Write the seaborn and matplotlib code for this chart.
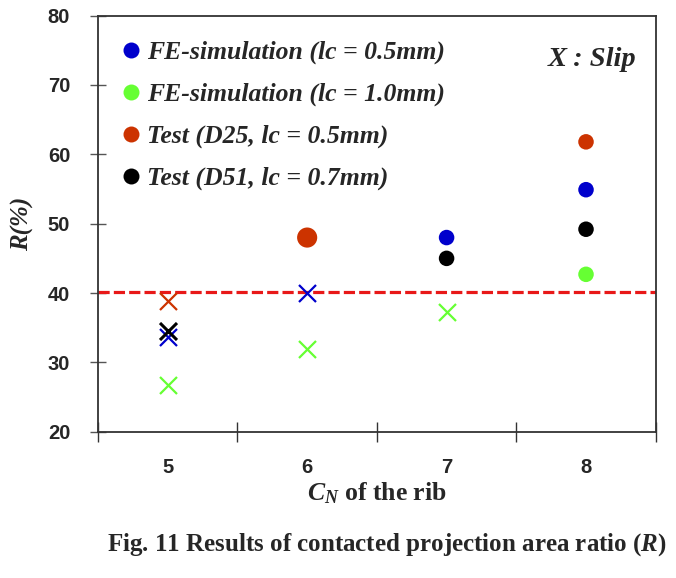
import numpy as np
import pandas as pd
import matplotlib
matplotlib.use('Agg')
import matplotlib.pyplot as plt
from matplotlib.lines import Line2D
import seaborn as sns

# Data
cn = [5, 6, 7, 8]
series = ['FE-simulation (lc = 0.5mm)', 'FE-simulation (lc = 1.0mm)',
          'Test (D25, lc = 0.5mm)', 'Test (D51, lc = 0.7mm)']
colors = ['#0000CC', '#66FF33', '#CC3300', '#000000']

fe05 = [33.6, 40.0, 48.0, 54.9]
fe10 = [26.7, 32.0, 37.3, 42.7]
d25 = [38.8, 48.0, np.nan, 61.8]
d51 = [34.6, np.nan, 45.0, 49.2]

# slip flags (True = slip, drawn as X)
fe05_slip = [True, True, False, False]
fe10_slip = [True, True, True, False]
d25_slip = [True, False, False, False]
d51_slip = [True, False, False, False]

threshold = 40.1

rows = []
for name, vals, slips in zip(series, [fe05, fe10, d25, d51],
                             [fe05_slip, fe10_slip, d25_slip, d51_slip]):
    for c, v, s in zip(cn, vals, slips):
        if not np.isnan(v):
            rows.append({'series': name, 'CN': c, 'R': v, 'slip': s})
df = pd.DataFrame(rows)

sns.set_style('white')
plt.rcParams['font.family'] = ['Liberation Sans', 'DejaVu Sans']
plt.rcParams['mathtext.fontset'] = 'custom'
plt.rcParams['mathtext.it'] = 'Liberation Serif:italic:bold'
plt.rcParams['mathtext.bf'] = 'Liberation Serif:bold'
plt.rcParams['mathtext.rm'] = 'Liberation Serif:bold'

fig = plt.figure(figsize=(6.76, 5.78), dpi=100)
ax = fig.add_axes([0.145, 0.253, 0.825, 0.72])
palette = dict(zip(series, colors))

ax.axhline(threshold, color='#E81818', lw=2.3, ls=(0, (3.5, 1.3)), zorder=1)

contact = df[~df['slip']]
slip = df[df['slip']]
# bigger circle for D25 at CN=6
sizes = np.where((contact['series'] == series[2]) & (contact['CN'] == 6), 210, 125)
sns.scatterplot(data=contact, x='CN', y='R', hue='series', palette=palette,
                hue_order=series, s=sizes, marker='o', edgecolor='none',
                legend=False, ax=ax, zorder=3)
for name in series:
    sub = slip[slip['series'] == name]
    lw = 2.2 if name == series[3] else 1.6
    sns.scatterplot(data=sub, x='CN', y='R', color=palette[name], marker='x',
                    s=150, linewidth=lw, legend=False, ax=ax, zorder=3)

ax.set_xlim(4.5, 8.5)
ax.set_ylim(20, 80)
ax.set_xticks([4.5, 5.5, 6.5, 7.5, 8.5])
ax.set_xticklabels([])
ax.set_xticks(cn, minor=True)
ax.set_xticklabels([str(c) for c in cn], minor=True)
ax.tick_params(axis='x', which='minor', bottom=True, length=0, pad=19, labelsize=14.5)
ax.tick_params(axis='x', which='major', bottom=True, direction='inout', length=14,
               width=1, color='#333333')
ax.set_yticks([20, 30, 40, 50, 60, 70, 80])
ax.tick_params(axis='y', left=True, direction='inout', length=12, width=1,
               color='#555555', labelsize=14.5, pad=14)
for lab in ax.get_xticklabels(minor=True) + ax.get_yticklabels():
    lab.set_fontweight('bold')
for sp in ax.spines.values():
    sp.set_color('#333333')
    sp.set_linewidth(1.3)

ax.set_xlabel(r'$\mathit{C}_{\mathit{N}}$ of the rib', family='Liberation Serif',
              fontsize=18.5, fontweight='bold', labelpad=2)
ax.set_ylabel('R(%)', family='Liberation Serif', fontsize=18, fontweight='bold',
              style='italic', labelpad=10)

handles = [Line2D([], [], ls='', marker='o', markersize=11.5, color=c, markeredgewidth=0)
           for c in colors]
leg = ax.legend(handles, series, loc='upper left', bbox_to_anchor=(-0.005, 0.995),
                frameon=False, handletextpad=0.1, handlelength=1.0, labelspacing=0.72,
                prop={'family': 'Liberation Serif', 'weight': 'bold', 'style': 'italic',
                      'size': 18.5})

ax.text(0.965, 0.895, 'X : Slip', transform=ax.transAxes, ha='right', va='center',
        family='Liberation Serif', fontweight='bold', style='italic', fontsize=20.5)

fig.text(0.573, 0.057, r'Fig. 11 Results of contacted projection area ratio ($\mathit{R}$)',
         ha='center', va='center', family='Liberation Serif', fontweight='bold', fontsize=18)

fig.savefig('out.png', dpi=100)
